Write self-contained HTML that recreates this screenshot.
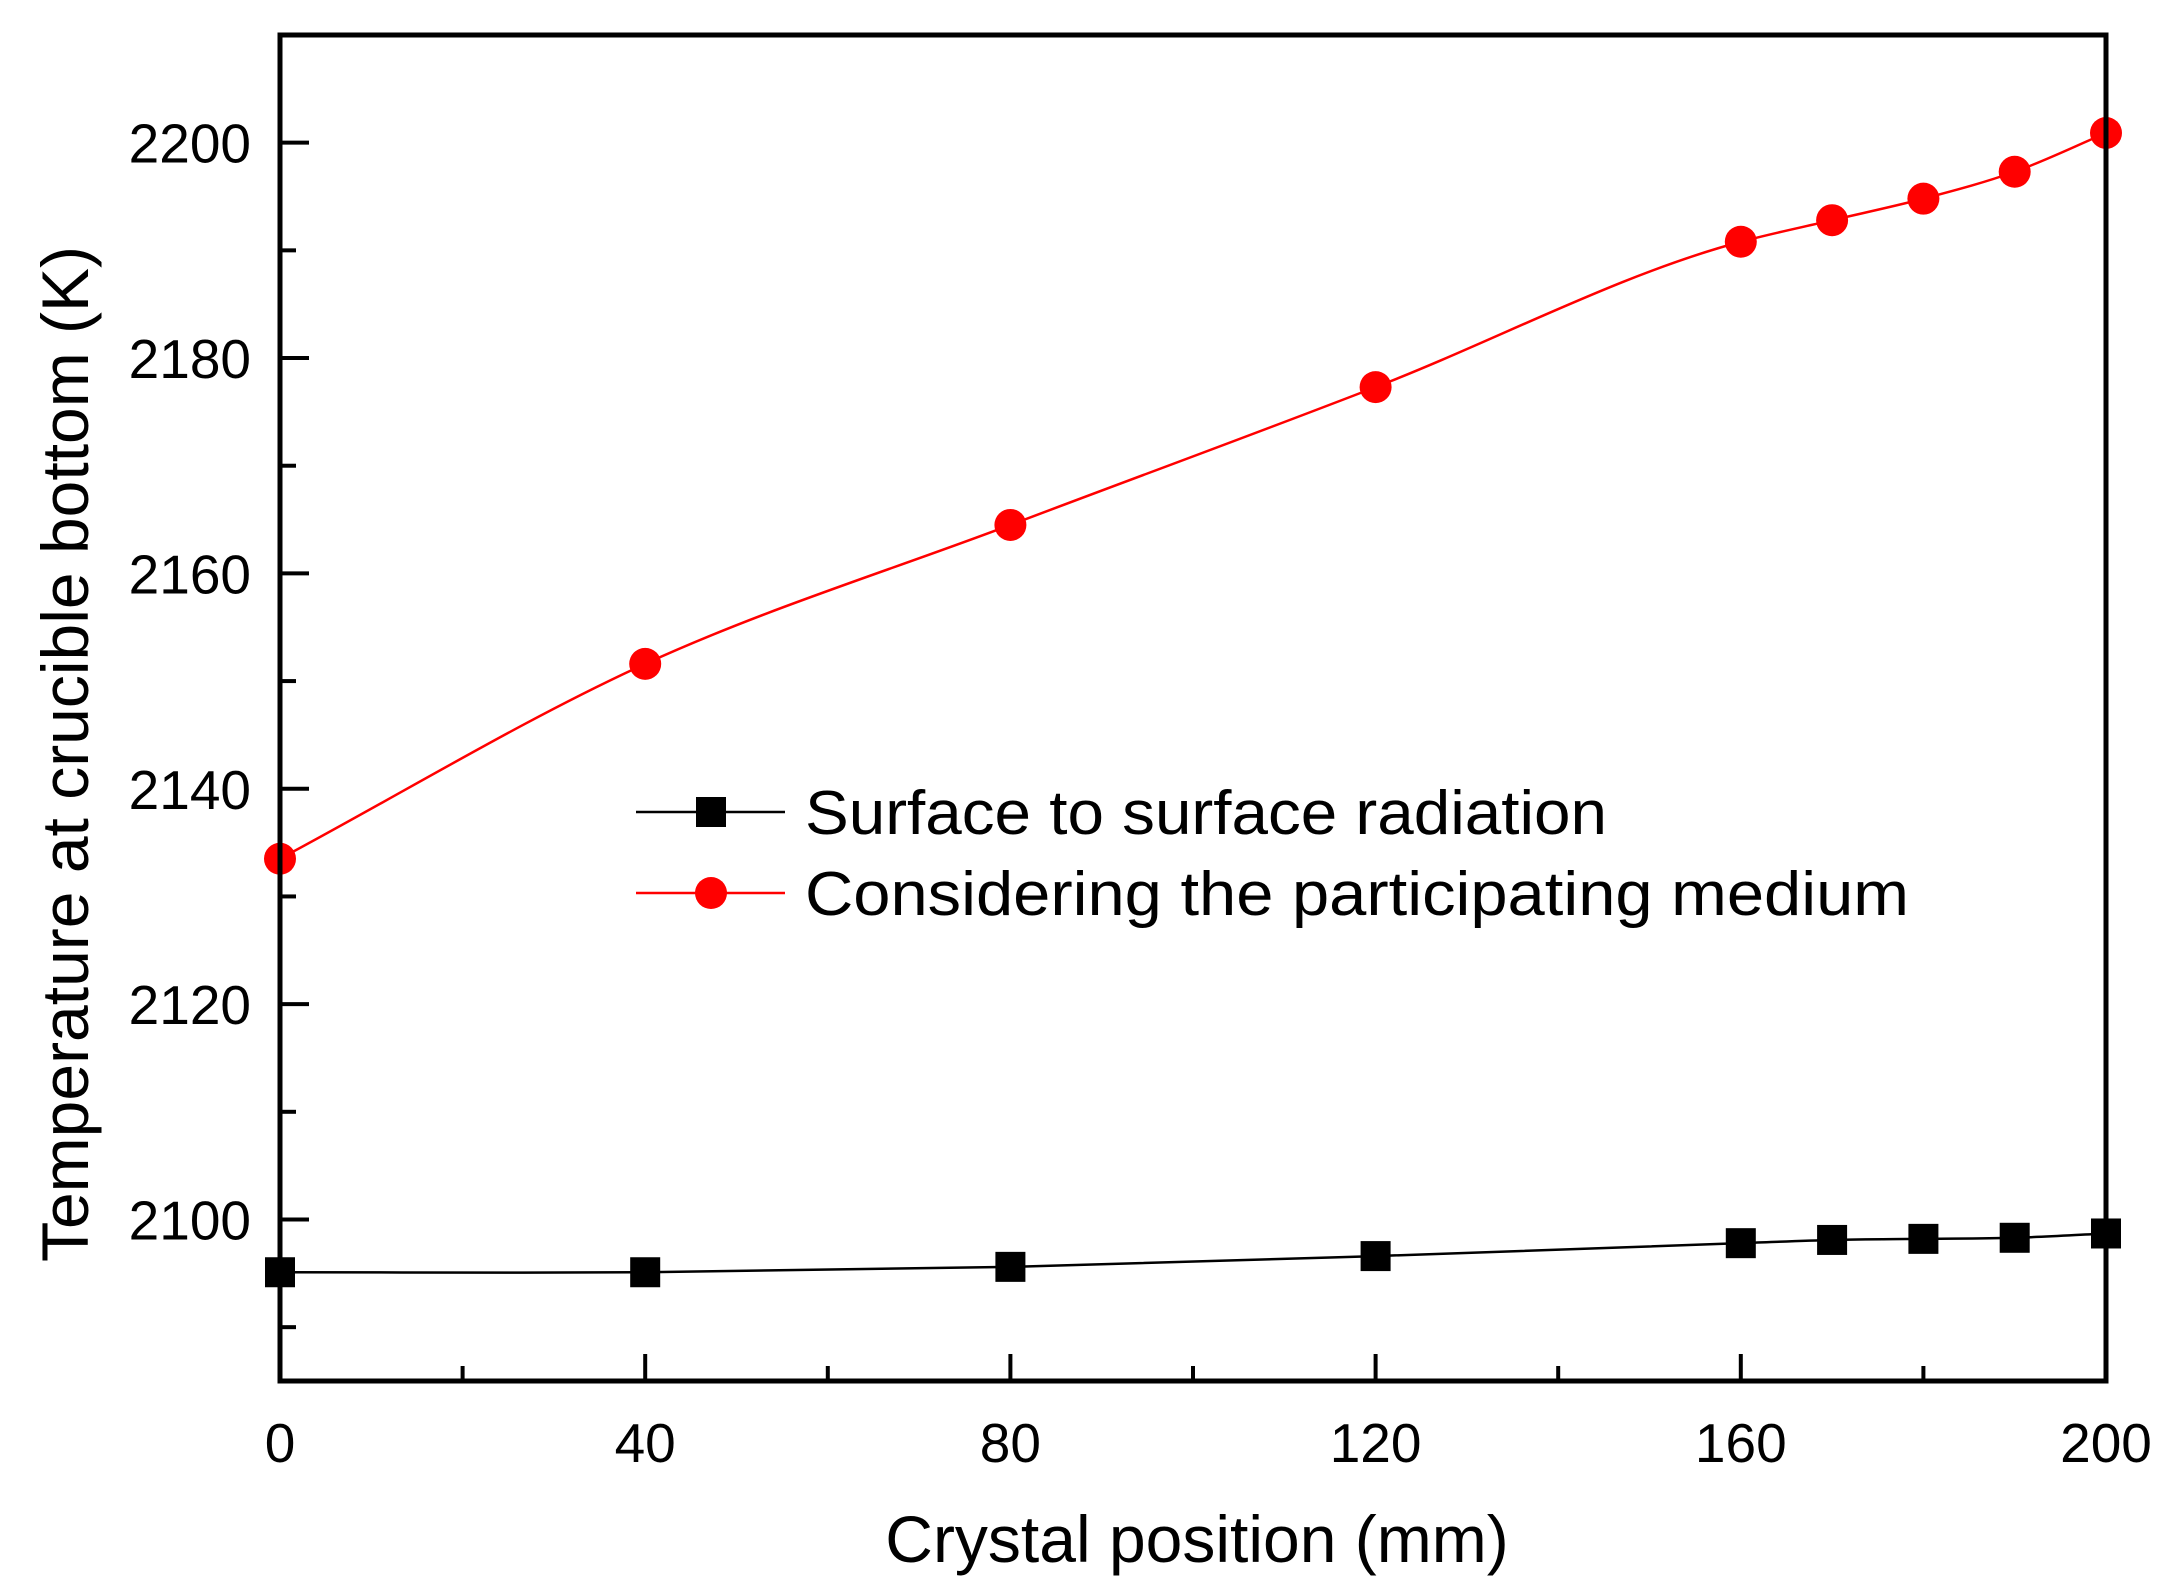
<!DOCTYPE html>
<html><head><meta charset="utf-8"><style>
html,body{margin:0;padding:0;background:#fff;}
svg{display:block;font-family:"Liberation Sans",Arial,sans-serif;}
</style></head><body>
<svg id="chart" width="2177" height="1595" viewBox="0 0 2177 1595" xmlns="http://www.w3.org/2000/svg"></svg>
<script>
const xValues = [0, 40, 80, 120, 160, 170, 180, 190, 200];
const surfaceValues = [2095.1, 2095.1, 2095.6, 2096.6, 2097.8, 2098.1, 2098.2, 2098.3, 2098.7];
const mediumValues = [2133.5, 2151.6, 2164.5, 2177.3, 2190.8, 2192.8, 2194.8, 2197.3, 2200.9];
const xTicks = [0, 40, 80, 120, 160, 200];
const yTicks = [2100, 2120, 2140, 2160, 2180, 2200];
const seriesNames = ["Surface to surface radiation", "Considering  the participating medium"];

const L=280, R=2106, T=35, B=1381;
const xMin=0, xMax=200, yMin=2085, yMax=2210;
const sx = v => L + (v - xMin) / (xMax - xMin) * (R - L);
const sy = v => B - (v - yMin) / (yMax - yMin) * (B - T);
const NS="http://www.w3.org/2000/svg";
const svg=document.getElementById('chart');
function mk(tag, attrs, parent){const e=document.createElementNS(NS,tag);for(const k in attrs)e.setAttribute(k,attrs[k]);(parent||svg).appendChild(e);return e;}

function smoothPath(xs, ys){
  const n=xs.length;
  const m=[];
  for(let i=0;i<n;i++){
    if(i===0) m.push((ys[1]-ys[0])/(xs[1]-xs[0]));
    else if(i===n-1) m.push((ys[n-1]-ys[n-2])/(xs[n-1]-xs[n-2]));
    else {
      const d0=(ys[i]-ys[i-1])/(xs[i]-xs[i-1]), d1=(ys[i+1]-ys[i])/(xs[i+1]-xs[i]);
      const h0=xs[i]-xs[i-1], h1=xs[i+1]-xs[i];
      m.push((d0*h1+d1*h0)/(h0+h1));
    }
  }
  let d=`M${sx(xs[0])},${sy(ys[0])}`;
  for(let i=0;i<n-1;i++){
    const h=xs[i+1]-xs[i];
    const c1x=xs[i]+h/3, c1y=ys[i]+m[i]*h/3;
    const c2x=xs[i+1]-h/3, c2y=ys[i+1]-m[i+1]*h/3;
    d+=` C${sx(c1x)},${sy(c1y)} ${sx(c2x)},${sy(c2y)} ${sx(xs[i+1])},${sy(ys[i+1])}`;
  }
  return d;
}

const tickG=mk('g',{});


for(let v=0; v<=200; v+=20){
  const major = v%40===0;
  const t=mk('line',{x1:sx(v),x2:sx(v),y1:B,y2:B-(major?27:15),stroke:'#000','stroke-width':4},tickG);
  
  
}
for(let v=2090; v<=2210; v+=10){
  const major = v%20===0;
  const t=mk('line',{x1:L,x2:L+(major?29:16),y1:sy(v),y2:sy(v),stroke:'#000','stroke-width':4},tickG);
  
  
}
xTicks.forEach(v=>{
  const t=mk('text',{x:sx(v),y:1462,'font-size':55,'text-anchor':'middle',fill:'#000'},tickG);
  t.textContent=v;
  
  
});
yTicks.forEach(v=>{
  const t=mk('text',{x:251,y:sy(v)+20,'font-size':55,'text-anchor':'end',fill:'#000'},tickG);
  t.textContent=v;
  
  
});

function drawSeries(vals,color,shape,name){
  const g=mk('g',{});
  
  
  const p=mk('path',{d:smoothPath(xValues,vals),fill:'none',stroke:color,'stroke-width':2.5},g);
  
  
  xValues.forEach((x,i)=>{
    let m;
    if(shape==='square') m=mk('rect',{x:sx(x)-15,y:sy(vals[i])-15,width:30,height:30,fill:color},g);
    else m=mk('circle',{cx:sx(x),cy:sy(vals[i]),r:16,fill:color},g);
    
    
  });
}
drawSeries(surfaceValues,'#000','square','surface-series');
drawSeries(mediumValues,'#ff0000','circle','medium-series');

const fr=mk('rect',{x:L,y:T,width:R-L,height:B-T,fill:'none',stroke:'#000','stroke-width':5});



const lg=mk('g',{});


[[812,834,'#000','square',802],[893,915,'#ff0000','circle',1104]].forEach((r,i)=>{
  const e=mk('g',{},lg);
  
  
  mk('line',{x1:636,x2:785,y1:r[0],y2:r[0],stroke:r[2],'stroke-width':2.5},e);
  if(r[3]==='square') mk('rect',{x:696,y:r[0]-15,width:30,height:30,fill:r[2]},e);
  else mk('circle',{cx:711,cy:r[0],r:16,fill:r[2]},e);
  const t=mk('text',{x:805,y:r[1],'font-size':62,fill:'#000',textLength:r[4],lengthAdjust:'spacingAndGlyphs'},e);
  t.textContent=seriesNames[i];
  t.setAttribute('xml:space','preserve');
});

const xt=mk('text',{x:1197,y:1562,'font-size':66,'text-anchor':'middle',fill:'#000'});
xt.textContent='Crystal position (mm)';


const yt=mk('text',{x:0,y:0,'font-size':66,'text-anchor':'middle',fill:'#000',transform:'translate(88,754) rotate(-90)'});
yt.textContent='Temperature at crucible bottom (K)';


</script>
</body></html>
